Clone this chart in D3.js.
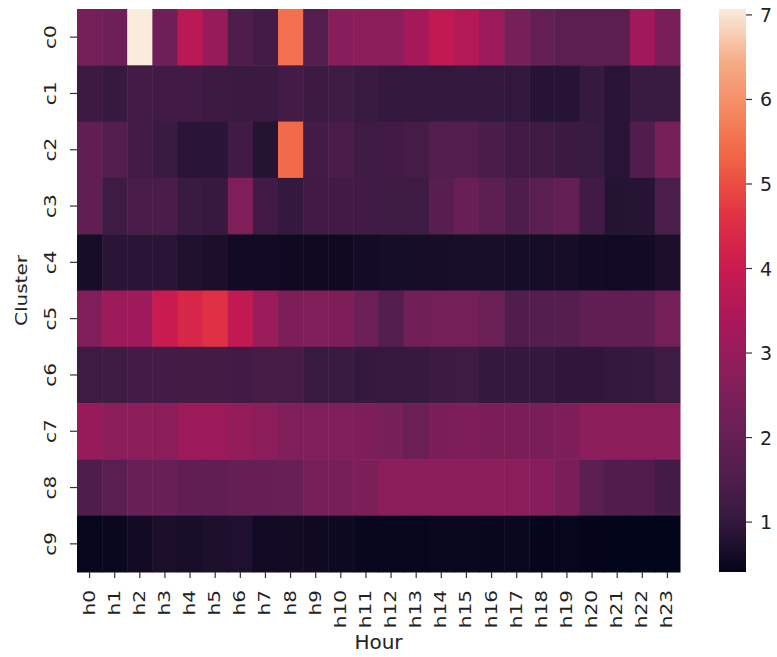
<!DOCTYPE html>
<html>
<head>
<meta charset="utf-8">
<script src="https://cdn.jsdelivr.net/npm/d3@7/dist/d3.min.js"></script>
<style>
  body { margin: 0; background: #fff; }
  text { font-family: "DejaVu Sans", sans-serif; fill: #222; }
</style>
</head>
<body>
<svg id="chart" width="777" height="657"></svg>
<script>
// DATA
const hours = ["h0","h1","h2","h3","h4","h5","h6","h7","h8","h9","h10","h11",
               "h12","h13","h14","h15","h16","h17","h18","h19","h20","h21","h22","h23"];
const clusters = ["c0","c1","c2","c3","c4","c5","c6","c7","c8","c9"];
const c0 = [2.3,2.2,7.07,2.2,3.7,3.0,1.5,1.3,5.5,1.65,2.7,2.8,2.8,3.3,3.85,3.55,3.1,2.35,1.95,1.8,1.8,1.8,3.2,2.4];
const c1 = [1.15,1.05,1.3,1.25,1.25,1.15,1.12,1.12,1.3,1.15,1.2,1.1,0.98,0.98,0.98,1.0,0.98,0.98,0.85,0.85,1.02,0.87,1.1,1.1];
const c2 = [1.9,1.6,1.3,1.1,0.9,0.9,1.25,0.82,5.4,1.3,1.4,1.2,1.25,1.35,1.6,1.6,1.4,1.25,1.22,1.12,1.1,0.86,1.55,2.35];
const c3 = [1.9,1.2,1.4,1.4,1.1,1.05,2.55,1.25,1.0,1.25,1.25,1.25,1.2,1.2,1.7,2.05,1.8,1.5,1.75,1.95,1.25,0.82,0.85,1.45];
const c4 = [0.65,0.88,0.9,0.9,0.75,0.72,0.6,0.57,0.55,0.55,0.55,0.62,0.64,0.64,0.66,0.68,0.68,0.64,0.63,0.65,0.58,0.57,0.6,0.72];
const c5 = [2.55,3.1,3.15,4.0,4.35,4.6,3.85,3.05,2.5,2.55,2.5,2.15,1.6,2.25,2.3,2.3,2.1,1.55,1.6,1.65,1.9,1.9,1.9,2.3];
const c6 = [1.2,1.2,1.3,1.3,1.28,1.28,1.25,1.35,1.35,1.08,1.08,1.0,1.05,1.03,1.17,1.2,1.0,1.0,1.0,0.95,0.95,1.0,1.03,1.2];
const c7 = [3.0,2.75,2.75,2.75,3.1,3.1,2.95,2.8,2.55,2.55,2.55,2.5,2.35,2.1,2.45,2.5,2.45,2.45,2.4,2.5,2.8,2.75,2.75,2.8];
const c8 = [1.5,1.75,2.05,2.05,1.9,1.9,2.0,2.0,2.05,2.35,2.35,2.5,2.8,2.8,2.8,2.8,2.8,2.8,2.7,2.45,1.75,1.55,1.55,1.3];
const c9 = [0.45,0.5,0.6,0.7,0.67,0.73,0.74,0.57,0.58,0.55,0.52,0.47,0.45,0.45,0.5,0.5,0.46,0.5,0.43,0.45,0.42,0.41,0.41,0.41];
const rows = [c0,c1,c2,c3,c4,c5,c6,c7,c8,c9];
const cbarTicks = [1,2,3,4,5,6,7];

// rocket colormap stops
const rocketStops = ["#03051a","#35193e","#541e4f","#701f57","#8e1d5b","#ad1759",
                     "#cb1b4f","#e13342","#f06043","#f58860","#f6ad88","#faebdd"];
const rocketPos = [0,1/11,2/11,3/11,4/11,5/11,6/11,7/11,8/11,9/11,10/11,1];

// LAYOUT
const plot = {left: 77, right: 680, top: 9, bottom: 572};
const cbar = {left: 719, right: 746};
const FS = 20, SX = 0.8;

const cells = [];
rows.forEach((r, i) => r.forEach((v, j) => cells.push({c: clusters[i], h: hours[j], v: v})));
const vmin = d3.min(cells, d => d.v), vmax = d3.max(cells, d => d.v);

const rocket = d3.scaleLinear().domain(rocketPos).range(rocketStops).interpolate(d3.interpolateRgb);
const color = v => rocket((v - vmin) / (vmax - vmin));

const x = d3.scaleBand().domain(hours).range([plot.left, plot.right]);
const y = d3.scaleBand().domain(clusters).range([plot.top, plot.bottom]);

const svg = d3.select('#chart');

svg.append('g')
    .selectAll('rect')
    .data(cells)
    .enter()
  .append('rect')
    .attr('x', d => x(d.h))
    .attr('y', d => y(d.c))
    .attr('width', x.bandwidth() + 0.5)
    .attr('height', y.bandwidth() + 0.5)
    .attr('fill', d => color(d.v));

// X AXIS
let xAxis = svg.append('g');
    xAxis.selectAll('line')
        .data(hours)
        .enter()
      .append('line')
        .attr('x1', d => x(d) + x.bandwidth() / 2)
        .attr('x2', d => x(d) + x.bandwidth() / 2)
        .attr('y1', plot.bottom)
        .attr('y2', plot.bottom + 6)
        .attr('stroke', '#333')
        .attr('stroke-width', 1.2);
    xAxis.selectAll('text')
        .data(hours)
        .enter()
      .append('text')
        .attr('transform', d => `translate(${x(d) + x.bandwidth() / 2 + 5}, ${plot.bottom + 18}) scale(${SX},1) rotate(-90)`)
        .attr('text-anchor', 'end')
        .attr('font-size', FS)
        .text(d => d);

// Y AXIS
let yAxis = svg.append('g');
    yAxis.selectAll('line')
        .data(clusters)
        .enter()
      .append('line')
        .attr('x1', plot.left - 7)
        .attr('x2', plot.left)
        .attr('y1', d => y(d) + y.bandwidth() / 2)
        .attr('y2', d => y(d) + y.bandwidth() / 2)
        .attr('stroke', '#333')
        .attr('stroke-width', 1.2);
    yAxis.selectAll('text')
        .data(clusters)
        .enter()
      .append('text')
        .attr('transform', d => `translate(56, ${y(d) + y.bandwidth() / 2}) scale(${SX},1) rotate(-90)`)
        .attr('text-anchor', 'middle')
        .attr('font-size', FS)
        .text(d => d);

svg.append('text')
    .attr('transform', `translate(27, ${(plot.top + plot.bottom) / 2}) scale(${SX},1) rotate(-90)`)
    .attr('text-anchor', 'middle')
    .attr('font-size', FS)
    .text('Cluster');
svg.append('text')
    .attr('transform', `translate(${(plot.left + plot.right) / 2}, 649)`)
    .attr('text-anchor', 'middle')
    .attr('font-size', FS)
    .text('Hour');

// COLORBAR
const cy = d3.scaleLinear().domain([vmin, vmax]).range([plot.bottom, plot.top]);
const grad = svg.append('defs').append('linearGradient')
    .attr('id', 'cbar-grad')
    .attr('x1', 0).attr('y1', 1).attr('x2', 0).attr('y2', 0);
grad.selectAll('stop')
    .data(d3.range(0, 1.0001, 0.02))
    .enter()
  .append('stop')
    .attr('offset', d => d)
    .attr('stop-color', d => rocket(d));
svg.append('rect')
    .attr('x', cbar.left)
    .attr('y', plot.top)
    .attr('width', cbar.right - cbar.left)
    .attr('height', plot.bottom - plot.top)
    .attr('fill', 'url(#cbar-grad)');

let cAxis = svg.append('g');
    cAxis.selectAll('line')
        .data(cbarTicks)
        .enter()
      .append('line')
        .attr('x1', cbar.right)
        .attr('x2', cbar.right + 6)
        .attr('y1', d => cy(d))
        .attr('y2', d => cy(d))
        .attr('stroke', '#333')
        .attr('stroke-width', 1.2);
    cAxis.selectAll('text')
        .data(cbarTicks)
        .enter()
      .append('text')
        .attr('transform', d => `translate(760, ${cy(d) + 7}) scale(0.95,1)`)
        .attr('font-size', FS)
        .text(d => d);
</script>
</body>
</html>
